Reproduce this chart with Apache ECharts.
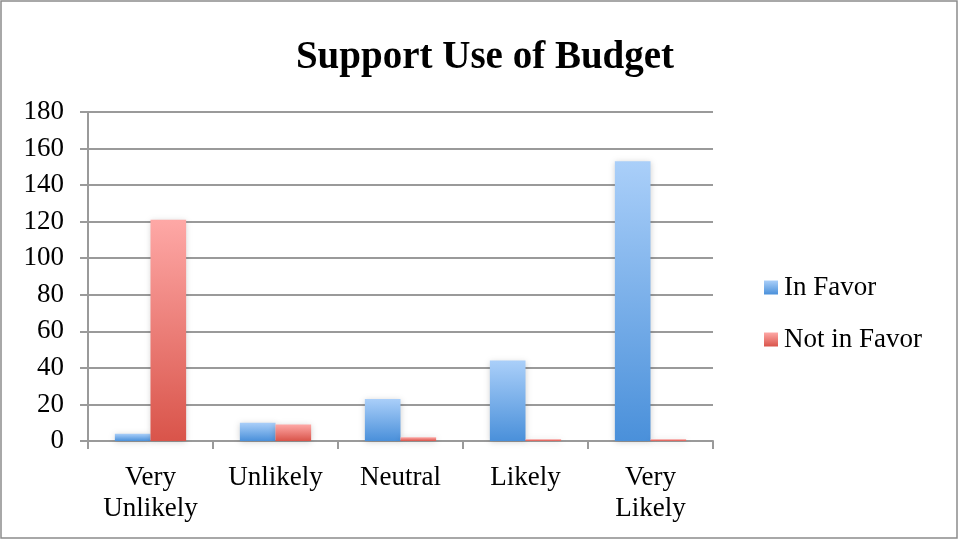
<!DOCTYPE html>
<html>
<head>
<meta charset="utf-8">
<script src="https://cdn.jsdelivr.net/npm/echarts@6/dist/echarts.min.js"></script>
<style>
  html, body { margin: 0; padding: 0; background: #fff; }
  #chart { width: 959px; height: 540px; }
</style>
</head>
<body>
<div id="chart"></div>
<script>
const categories = ['Very\nUnlikely', 'Unlikely', 'Neutral', 'Likely', 'Very\nLikely'];
const inFavor = [4, 10, 23, 44, 153];
const notInFavor = [121, 9, 2, 1, 1];
const seriesNames = ['In Favor', 'Not in Favor'];

const FONT = 'Liberation Serif';

function barGradient(top, bottom) {
  return new echarts.graphic.LinearGradient(0, 0, 0, 1, [
    { offset: 0, color: top },
    { offset: 1, color: bottom }
  ]);
}

const chart = echarts.init(document.getElementById('chart'), null, { renderer: 'canvas' });

chart.setOption({
  animation: false,
  backgroundColor: '#ffffff',
  title: {
    text: 'Support Use of Budget',
    left: 480,
    textAlign: 'center',
    top: 33,
    textStyle: { fontFamily: FONT, fontWeight: 'bold', fontSize: 39, color: '#000' }
  },
  legend: {
    orient: 'vertical',
    left: 759,
    top: 269,
    itemWidth: 14,
    itemHeight: 14,
    itemGap: 25,
    icon: 'rect',
    textStyle: { fontFamily: FONT, fontSize: 27, lineHeight: 27, color: '#000', padding: [0, 0, 0, 1] },
    data: seriesNames
  },
  grid: { left: 88, right: 246, top: 112, bottom: 99, containLabel: false },
  xAxis: {
    type: 'category',
    data: categories,
    axisLine: { lineStyle: { color: '#9a9a9a', width: 2 } },
    axisTick: { show: true, length: 8, lineStyle: { color: '#9a9a9a', width: 2 } },
    axisLabel: { fontFamily: FONT, fontSize: 27, color: '#000', margin: 21, lineHeight: 31 }
  },
  yAxis: {
    type: 'value',
    min: 0,
    max: 180,
    interval: 20,
    axisLine: { show: true, lineStyle: { color: '#9a9a9a', width: 2 } },
    axisTick: { show: true, length: 8, lineStyle: { color: '#9a9a9a', width: 2 } },
    axisLabel: { fontFamily: FONT, fontSize: 27, color: '#000', margin: 24 },
    splitLine: { lineStyle: { color: '#9a9a9a', width: 2 } }
  },
  series: [
    {
      name: seriesNames[0],
      type: 'bar',
      data: inFavor,
      barGap: '0%',
      barCategoryGap: '43%',
      itemStyle: {
        color: barGradient('#aacff9', '#4a90da'),
        shadowColor: 'rgba(0,0,0,0.18)',
        shadowBlur: 6,
        shadowOffsetY: 1
      }
    },
    {
      name: seriesNames[1],
      type: 'bar',
      data: notInFavor,
      itemStyle: {
        color: barGradient('#fea8a6', '#d9544a'),
        shadowColor: 'rgba(0,0,0,0.18)',
        shadowBlur: 6,
        shadowOffsetY: 1
      }
    }
  ],
  graphic: [
    {
      type: 'rect',
      shape: { x: 1, y: 1, width: 956, height: 537 },
      style: { fill: 'none', stroke: '#8c8c8c', lineWidth: 1.5 },
      silent: true
    }
  ]
});
</script>
</body>
</html>
